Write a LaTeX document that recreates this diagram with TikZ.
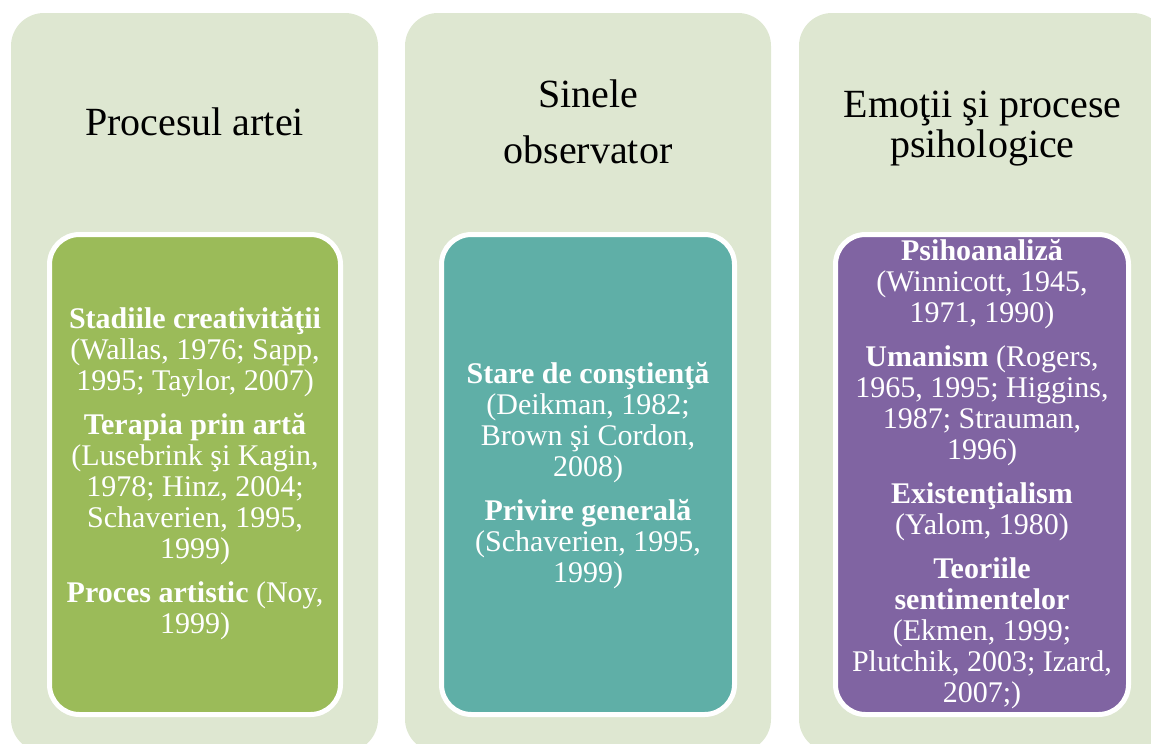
\documentclass[tikz,border=0pt]{standalone}
\usepackage{fontspec}
\setmainfont{Liberation Serif}
\definecolor{panelbg}{HTML}{DEE7D1}
\definecolor{boxgreen}{HTML}{9BBB59}
\definecolor{boxteal}{HTML}{5FAFA7}
\definecolor{boxpurple}{HTML}{8064A2}
\tikzset{
  panel/.style={fill=panelbg, draw=none, rounded corners=33},
  inner/.style={draw=white, line width=5, rounded corners=30},
  ttl/.style={font=\fontsize{40}{48}\selectfont, text=black, align=center, inner sep=0},
  body/.style={font=\fontsize{30}{31}\selectfont, text=white, align=center, inner sep=0, anchor=base},
}
\begin{document}
\begin{tikzpicture}[x=1pt,y=-1pt]
\useasboundingbox (0,0) rectangle (1151,744);
\clip (0,0) rectangle (1151,744);
% panels
\path[panel] (11,13) rectangle (378,752);
\path[panel] (405,13) rectangle (771,752);
\path[panel] (799,13) rectangle (1166,752);
% inner boxes
\path[inner, fill=boxgreen] (49.5,234.5) rectangle (340.5,714.5);
\path[inner, fill=boxteal] (441.5,234.5) rectangle (734.5,714.5);
\path[inner, fill=boxpurple] (835.5,234.5) rectangle (1128.5,714.5);
% titles
\node[ttl, anchor=base] (t1) at (194.5,135) {Procesul artei};
\node[ttl, anchor=base] (t2a) at (588,107) {Sinele};
\node[ttl, anchor=base] (t2b) at (588,163) {observator};
\node[ttl, anchor=base] (t3a) at (982.5,117) {Emoţii şi procese};
\node[ttl, anchor=base] (t3b) at (982.5,157) {psihologice};
% body texts (base anchor = last line's baseline)
\node[body] (b1) at (195,633) {\textbf{Stadiile creativităţii}\\(Wallas, 1976; Sapp,\\1995; Taylor, 2007)\\[13pt]
\textbf{Terapia prin artă}\\(Lusebrink şi Kagin,\\1978; Hinz, 2004;\\Schaverien, 1995,\\1999)\\[13pt]
\textbf{Proces artistic} (Noy,\\1999)};
\node[body] (b2) at (588,582) {\textbf{Stare de conştienţă}\\(Deikman, 1982;\\Brown şi Cordon,\\2008)\\[13pt]
\textbf{Privire generală}\\(Schaverien, 1995,\\1999)};
\node[body] (b3) at (982,702) {\textbf{Psihoanaliză}\\(Winnicott, 1945,\\1971, 1990)\\[13pt]
\textbf{Umanism} (Rogers,\\1965, 1995; Higgins,\\1987; Strauman,\\1996)\\[13pt]
\textbf{Existenţialism}\\(Yalom, 1980)\\[13pt]
\textbf{Teoriile}\\\textbf{sentimentelor}\\(Ekmen, 1999;\\Plutchik, 2003; Izard,\\2007;)};
\end{tikzpicture}
\end{document}
